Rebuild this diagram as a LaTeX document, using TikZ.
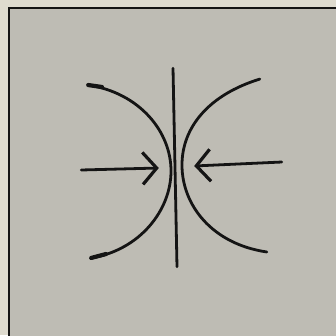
\documentclass[tikz,border=0pt]{standalone}
\usetikzlibrary{arrows.meta}
\definecolor{pageCream}{RGB}{222,219,207}
\definecolor{panelGrey}{RGB}{190,188,180}
\definecolor{inkBlack}{RGB}{20,20,20}
\tikzset{
    EMPTY/.style={inner sep=0mm, minimum size=0mm},
    EDGE/.style={draw=inkBlack, line width=2.8pt, line cap=round, line join=round},
    THICK_EDGE/.style={EDGE, line width=4.2pt},
    PUSH_EDGE/.style={EDGE, -{Straight Barb[length=14pt, width=32pt, line width=3.2pt]}},
    FRAME/.style={fill=panelGrey, draw=inkBlack, line width=2pt}
}

\begin{document}
\begin{tikzpicture}[x=1pt, y=-1pt]
    \fill[pageCream] (0,0) rectangle (336,335);
    \useasboundingbox (0,0) rectangle (336,335);
    \draw[FRAME] (9,8) rectangle (345,345);
    % the wall
    \node [EMPTY] (1) at (173,68) {};
    \node [EMPTY] (2) at (177,267) {};
    % left wave front
    \node [EMPTY] (3) at (88,85) {};
    \node [EMPTY] (4) at (171,171) {};
    \node [EMPTY] (5) at (91,258) {};
    % right wave front
    \node [EMPTY] (6) at (260,79) {};
    \node [EMPTY] (7) at (182,165) {};
    \node [EMPTY] (8) at (267,252) {};
    % arrows
    \node [EMPTY] (9) at (81,170) {};
    \node [EMPTY] (10) at (159,168) {};
    \node [EMPTY] (11) at (282,162) {};
    \node [EMPTY] (12) at (194,166) {};

    \draw[EDGE] (1) to (2);
    \draw[EDGE] (3) .. controls (140,93) and (171,132) .. (4)
        .. controls (171,210) and (140,250) .. (5);
    \draw[THICK_EDGE] (3) -- (102,87);
    \draw[THICK_EDGE] (5) -- (106,254);
    \draw[EDGE] (6) .. controls (208,95) and (182,128) .. (7)
        .. controls (182,205) and (212,244) .. (8);
    \draw[PUSH_EDGE] (9) to (10);
    \draw[PUSH_EDGE] (11) to (12);
\end{tikzpicture}
\end{document}
